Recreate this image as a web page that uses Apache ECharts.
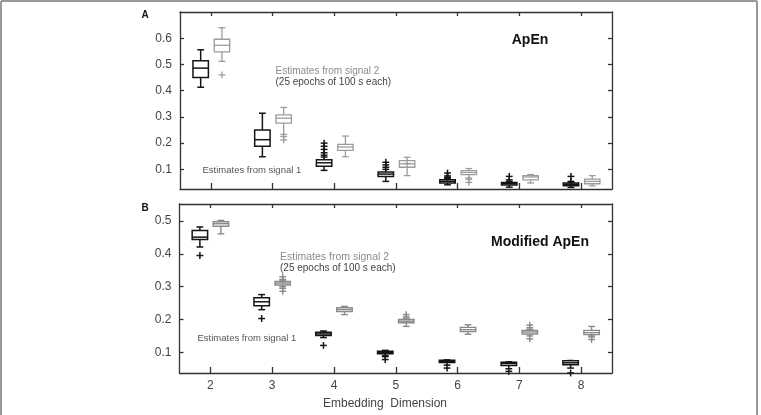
<!DOCTYPE html>
<html>
<head>
<meta charset="utf-8">
<style>
  html, body { margin: 0; padding: 0; background: #fff; }
  #chart { width: 761px; height: 415px; }
</style>
<script src="https://cdn.jsdelivr.net/npm/echarts@6.0.0/dist/echarts.min.js"></script>
</head>
<body>
<div id="chart"></div>
<script>
// embedding dimension categories
var dims = ['2', '3', '4', '5', '6', '7', '8'];

// box stats per dimension: [low whisker, q1, median, q3, high whisker]
var apenSig1 = [
  [0.413, 0.450, 0.486, 0.514, 0.556],
  [0.148, 0.188, 0.213, 0.250, 0.314],
  [0.096, 0.112, 0.125, 0.137, 0.147],
  [0.054, 0.073, 0.082, 0.090, 0.100],
  [0.041, 0.048, 0.054, 0.060, 0.066],
  [0.032, 0.040, 0.045, 0.050, 0.054],
  [0.031, 0.037, 0.043, 0.048, 0.050]
];
var apenSig2 = [
  [0.512, 0.548, 0.573, 0.596, 0.640],
  [0.233, 0.276, 0.295, 0.308, 0.336],
  [0.148, 0.172, 0.185, 0.195, 0.227],
  [0.076, 0.108, 0.121, 0.133, 0.146],
  [0.067, 0.080, 0.088, 0.095, 0.103],
  [0.048, 0.060, 0.071, 0.076, 0.080],
  [0.037, 0.045, 0.054, 0.063, 0.076]
];
// outliers: [dimension index, value]
var apenSig1Out = [
  [2, 0.200], [2, 0.188], [2, 0.176], [2, 0.163], [2, 0.154],
  [3, 0.127], [3, 0.117], [3, 0.108],
  [4, 0.086], [4, 0.075], [4, 0.070],
  [5, 0.073], [5, 0.060],
  [6, 0.073], [6, 0.054]
];
var apenSig2Out = [
  [0, 0.460],
  [1, 0.225], [1, 0.212],
  [3, 0.122],
  [4, 0.062], [4, 0.050]
];

var modSig1 = [
  [0.421, 0.444, 0.451, 0.471, 0.482],
  [0.230, 0.242, 0.254, 0.266, 0.276],
  [0.145, 0.151, 0.156, 0.161, 0.165],
  [0.090, 0.096, 0.100, 0.103, 0.106],
  [0.061, 0.069, 0.072, 0.076, 0.077],
  [0.050, 0.060, 0.066, 0.070, 0.071],
  [0.052, 0.062, 0.068, 0.074, 0.075]
];
var modSig2 = [
  [0.461, 0.484, 0.492, 0.498, 0.502],
  [0.300, 0.305, 0.311, 0.316, 0.320],
  [0.215, 0.224, 0.230, 0.236, 0.240],
  [0.179, 0.190, 0.195, 0.200, 0.204],
  [0.155, 0.163, 0.169, 0.176, 0.184],
  [0.150, 0.156, 0.162, 0.167, 0.170],
  [0.150, 0.154, 0.160, 0.167, 0.179]
];
var modSig1Out = [
  [0, 0.395],
  [1, 0.203],
  [2, 0.121],
  [3, 0.087], [3, 0.078],
  [4, 0.052],
  [5, 0.042],
  [6, 0.037]
];
var modSig2Out = [
  [1, 0.330], [1, 0.322], [1, 0.295], [1, 0.286],
  [3, 0.215], [3, 0.208],
  [5, 0.183], [5, 0.175], [5, 0.141],
  [6, 0.147], [6, 0.139]
];

// y tick labels
var apenTicks = [0.1, 0.2, 0.3, 0.4, 0.5, 0.6];
var modTicks = [0.1, 0.2, 0.3, 0.4, 0.5];

var chart = echarts.init(document.getElementById('chart'));

function boxRows(stats) {
  return stats.map(function (s, i) { return [i].concat(s); });
}

// box + whiskers, shifted left/right of the tick by a share of the band
function boxRender(shift, color, lw) {
  return function (params, api) {
    var i = api.value(0);
    var band = api.size([1, 0])[0];
    var cx = api.coord([i, 0])[0] + shift * band;
    var hw = band * 0.125;
    var cw = band * 0.055;
    var lo = api.coord([i, api.value(1)])[1];
    var q1 = api.coord([i, api.value(2)])[1];
    var md = api.coord([i, api.value(3)])[1];
    var q3 = api.coord([i, api.value(4)])[1];
    var hi = api.coord([i, api.value(5)])[1];
    var st = { stroke: color, lineWidth: lw, fill: null };
    return {
      type: 'group',
      children: [
        { type: 'line', shape: { x1: cx, y1: hi, x2: cx, y2: q3 }, style: st },
        { type: 'line', shape: { x1: cx, y1: q1, x2: cx, y2: lo }, style: st },
        { type: 'line', shape: { x1: cx - cw, y1: hi, x2: cx + cw, y2: hi }, style: st },
        { type: 'line', shape: { x1: cx - cw, y1: lo, x2: cx + cw, y2: lo }, style: st },
        { type: 'rect', shape: { x: cx - hw, y: q3, width: hw * 2, height: q1 - q3 },
          style: { stroke: color, lineWidth: lw, fill: '#fff' } },
        { type: 'line', shape: { x1: cx - hw, y1: md, x2: cx + hw, y2: md }, style: st }
      ]
    };
  };
}

function plusRender(shift, color, lw) {
  return function (params, api) {
    var i = api.value(0);
    var band = api.size([1, 0])[0];
    var p = api.coord([i, api.value(1)]);
    var cx = p[0] + shift * band;
    var r = 3.4;
    var st = { stroke: color, lineWidth: lw };
    return {
      type: 'group',
      children: [
        { type: 'line', shape: { x1: cx - r, y1: p[1], x2: cx + r, y2: p[1] }, style: st },
        { type: 'line', shape: { x1: cx, y1: p[1] - r, x2: cx, y2: p[1] + r }, style: st }
      ]
    };
  };
}

var frame = { show: true, lineStyle: { color: '#333', width: 1.3 } };

function xAx(gi, pos, labels) {
  return {
    type: 'category', data: dims, gridIndex: gi, position: pos,
    boundaryGap: true,
    axisLine: frame,
    axisTick: { show: true, inside: true, alignWithLabel: true,
      length: pos === 'bottom' ? 6 : 4, lineStyle: { color: '#333', width: 1.3 } },
    axisLabel: { show: labels, color: '#444', fontSize: 12,
      fontFamily: 'Liberation Sans, Arial, sans-serif', margin: 7 },
    splitLine: { show: false }
  };
}

function yAx(gi, pos, min, max, ticks, labels) {
  return {
    type: 'value', gridIndex: gi, position: pos, min: min, max: max,
    axisLine: frame,
    axisTick: { show: true, inside: true, length: 4, customValues: ticks,
      lineStyle: { color: '#333', width: 1.3 } },
    axisLabel: { show: labels, customValues: ticks, color: '#444', fontSize: 12,
      fontFamily: 'Liberation Sans, Arial, sans-serif', margin: 8,
      formatter: function (v) { return v.toFixed(1); } },
    splitLine: { show: false }
  };
}

function txt(x, y, s, size, color, bold, align) {
  return {
    type: 'text', x: x, y: y,
    style: { text: s, fill: color, fontSize: size,
      fontWeight: bold ? 'bold' : 'normal',
      fontFamily: 'Liberation Sans, Arial, sans-serif',
      align: align || 'left', verticalAlign: 'middle' }
  };
}

var sig1Col = '#151515';
var sig2ColA = '#9c9c9c';
var sig2ColB = '#8a8a8a';

chart.setOption({
  animation: false,
  backgroundColor: '#fff',
  grid: [
    { left: 180, top: 12, width: 432, height: 177, show: false },
    { left: 179.5, top: 204, width: 432.5, height: 169, show: false }
  ],
  xAxis: [
    xAx(0, 'bottom', false),
    xAx(0, 'top', false),
    xAx(1, 'bottom', true),
    xAx(1, 'top', false)
  ],
  yAxis: [
    yAx(0, 'left', 0.025, 0.7, apenTicks, true),
    yAx(0, 'right', 0.025, 0.7, apenTicks, false),
    yAx(1, 'left', 0.037, 0.552, modTicks, true),
    yAx(1, 'right', 0.037, 0.552, modTicks, false)
  ],
  series: [
    { type: 'custom', name: 'ApEn signal 1', xAxisIndex: 0, yAxisIndex: 0,
      renderItem: boxRender(-0.165, sig1Col, 1.5), data: boxRows(apenSig1) },
    { type: 'custom', name: 'ApEn signal 2', xAxisIndex: 0, yAxisIndex: 0,
      renderItem: boxRender(0.18, sig2ColA, 1.3), data: boxRows(apenSig2) },
    { type: 'custom', name: 'ApEn signal 1 outliers', xAxisIndex: 0, yAxisIndex: 0,
      renderItem: plusRender(-0.165, sig1Col, 1.5), data: apenSig1Out },
    { type: 'custom', name: 'ApEn signal 2 outliers', xAxisIndex: 0, yAxisIndex: 0,
      renderItem: plusRender(0.18, sig2ColA, 1.3), data: apenSig2Out },
    { type: 'custom', name: 'Mod signal 1', xAxisIndex: 2, yAxisIndex: 2,
      renderItem: boxRender(-0.17, sig1Col, 1.5), data: boxRows(modSig1) },
    { type: 'custom', name: 'Mod signal 2', xAxisIndex: 2, yAxisIndex: 2,
      renderItem: boxRender(0.17, sig2ColB, 1.4), data: boxRows(modSig2) },
    { type: 'custom', name: 'Mod signal 1 outliers', xAxisIndex: 2, yAxisIndex: 2,
      renderItem: plusRender(-0.17, sig1Col, 1.5), data: modSig1Out },
    { type: 'custom', name: 'Mod signal 2 outliers', xAxisIndex: 2, yAxisIndex: 2,
      renderItem: plusRender(0.17, sig2ColB, 1.4), data: modSig2Out }
  ],
  graphic: [
    // outer frame (top, left, right)
    { type: 'line', shape: { x1: 1, y1: 1, x2: 757, y2: 1 }, style: { stroke: '#999', lineWidth: 2 } },
    { type: 'line', shape: { x1: 1, y1: 1, x2: 1, y2: 415 }, style: { stroke: '#999', lineWidth: 2 } },
    { type: 'line', shape: { x1: 757, y1: 1, x2: 757, y2: 415 }, style: { stroke: '#999', lineWidth: 2 } },
    txt(141.5, 15.5, 'A', 10, '#111', true),
    txt(141.5, 208, 'B', 10, '#111', true),
    txt(530, 40, 'ApEn', 14, '#111', true, 'center'),
    txt(540, 242, 'Modified ApEn', 14, '#111', true, 'center'),
    txt(275.5, 71, 'Estimates from signal 2', 10, '#8c8c8c', false),
    txt(275.5, 82, '(25 epochs of 100 s each)', 10, '#444', false),
    txt(202.5, 170, 'Estimates from signal 1', 9.5, '#555', false),
    txt(280, 257, 'Estimates from signal 2', 10.5, '#8c8c8c', false),
    txt(280, 268, '(25 epochs of 100 s each)', 10, '#444', false),
    txt(197.5, 338, 'Estimates from signal 1', 9.5, '#555', false),
    txt(385, 404, 'Embedding  Dimension', 12, '#444', false, 'center')
  ]
});
</script>
</body>
</html>
